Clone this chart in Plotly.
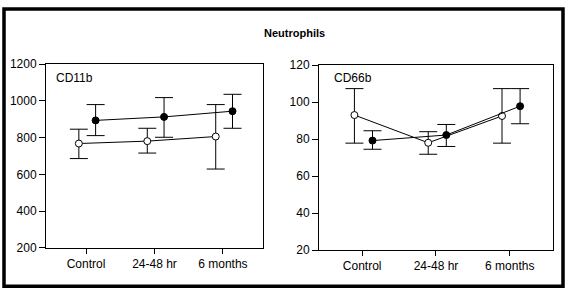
import plotly.graph_objects as go

W, H = 569, 298

# ---------------- data ----------------
categories = ["Control", "24-48 hr", "6 months"]

# CD11b (left panel)
cd11b_open_mean = [768, 781, 806]
cd11b_open_hi = [846, 851, 980]
cd11b_open_lo = [686, 716, 629]
cd11b_closed_mean = [894, 913, 944]
cd11b_closed_hi = [980, 1018, 1036]
cd11b_closed_lo = [811, 802, 851]

# CD66b (right panel)
cd66b_open_mean = [93.0, 78.0, 92.5]
cd66b_open_hi = [107.3, 84.0, 107.3]
cd66b_open_lo = [77.8, 71.8, 77.8]
cd66b_closed_mean = [79.2, 82.2, 97.8]
cd66b_closed_hi = [84.5, 87.9, 107.3]
cd66b_closed_lo = [74.5, 76.0, 88.3]

left_yticks = [200, 400, 600, 800, 1000, 1200]
right_yticks = [20, 40, 60, 80, 100, 120]

# ---------------- layout helpers ----------------
OPEN_OFF = -0.105
CLOSED_OFF = 0.14
FONT = "Liberation Sans, Arial, sans-serif"


def px_x(p):
    return p / W


def px_y(p):
    return 1 - p / H


fig = go.Figure()


def add_series(mean, hi, lo, off, filled, xa, ya):
    xs = [i + off for i in range(len(mean))]
    fig.add_trace(go.Scatter(
        x=xs, y=mean, xaxis=xa, yaxis=ya, mode="lines+markers",
        line=dict(color="black", width=1),
        marker=dict(size=7, color="black" if filled else "white",
                    line=dict(color="black", width=1)),
        error_y=dict(type="data", symmetric=False,
                     array=[h - m for h, m in zip(hi, mean)],
                     arrayminus=[m - l for m, l in zip(mean, lo)],
                     color="black", thickness=1, width=9),
        showlegend=False, hoverinfo="skip",
    ))


add_series(cd11b_open_mean, cd11b_open_hi, cd11b_open_lo, OPEN_OFF, False, "x", "y")
add_series(cd11b_closed_mean, cd11b_closed_hi, cd11b_closed_lo, CLOSED_OFF, True, "x", "y")
add_series(cd66b_open_mean, cd66b_open_hi, cd66b_open_lo, OPEN_OFF, False, "x2", "y2")
add_series(cd66b_closed_mean, cd66b_closed_hi, cd66b_closed_lo, CLOSED_OFF, True, "x2", "y2")

axis_common = dict(showline=True, linecolor="black", linewidth=1, mirror=True,
                   showgrid=False, zeroline=False, ticks="outside",
                   tickcolor="black", tickwidth=1,
                   tickfont=dict(family=FONT, size=12, color="black"))

xr = [-0.585, 2.59]
fig.update_layout(
    width=W, height=H, autosize=False, margin=dict(l=0, r=0, t=0, b=0, pad=0),
    paper_bgcolor="white", plot_bgcolor="white",
    xaxis=dict(domain=[px_x(46), px_x(263.3)], range=xr, anchor="y",
               tickvals=list(range(len(categories))), ticktext=categories,
               ticklen=5, **axis_common),
    yaxis=dict(domain=[px_y(252.7), px_y(60)], range=[200, 1200], anchor="x",
               tickvals=left_yticks, ticklen=6, **axis_common),
    xaxis2=dict(domain=[px_x(319), px_x(553.3)], range=xr, anchor="y2",
                tickvals=list(range(len(categories))), ticktext=categories,
                ticklen=5, **axis_common),
    yaxis2=dict(domain=[px_y(255), px_y(61)], range=[20, 120], anchor="x2",
                tickvals=right_yticks, ticklen=6, **axis_common),
    shapes=[dict(type="rect", xref="paper", yref="paper",
                 x0=px_x(4), x1=px_x(563), y0=px_y(293), y1=px_y(2),
                 line=dict(color="black", width=3.5))],
    annotations=[
        dict(text="<b>Neutrophils</b>", xref="paper", yref="paper",
             x=px_x(294.5), y=px_y(27), xanchor="center", yanchor="middle",
             showarrow=False,
             font=dict(family=FONT, size=11, color="black")),
        dict(text="CD11b", xref="paper", yref="paper",
             x=px_x(54), y=px_y(74.3), xanchor="left", yanchor="middle",
             showarrow=False, font=dict(family=FONT, size=12, color="black")),
        dict(text="CD66b", xref="paper", yref="paper",
             x=px_x(332), y=px_y(74.3), xanchor="left", yanchor="middle",
             showarrow=False, font=dict(family=FONT, size=12, color="black")),
    ],
)

fig.write_html(
    "out.html",
    config={"displayModeBar": False, "responsive": False, "staticPlot": True},
    post_script=(
        "document.body.style.margin='0';document.body.style.padding='0';"
        "document.body.style.overflow='hidden';"
    ),
)
